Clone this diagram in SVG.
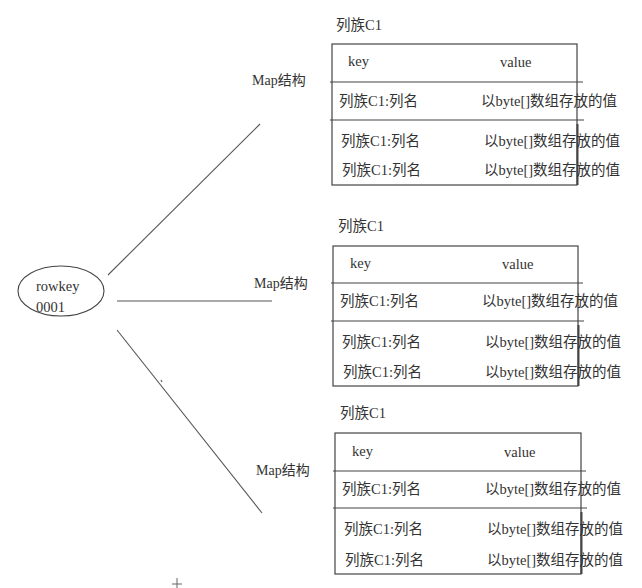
<svg xmlns="http://www.w3.org/2000/svg" width="642" height="588" viewBox="0 0 642 588">
<style>
text{font-size:14.5px;fill:#333}
.box{fill:none;stroke:#444;stroke-width:1.2}
.div{stroke:#444;stroke-width:1.2}
.edge{stroke:#444;stroke-width:2}
.conn line{stroke:#555;stroke-width:1.1}
</style>
<rect width="642" height="588" fill="#fff"/>
<g font-family="'Liberation Serif', 'Noto Sans CJK SC', serif">
<g id="rowkey">
<ellipse cx="61" cy="291" rx="43" ry="25" fill="none" stroke="#444" stroke-width="1.1"/>
<text x="36" y="291">rowkey</text>
<text x="36" y="312">0001</text>
</g>
<g class="conn" id="connectors">
<line x1="108" y1="275" x2="260" y2="124"/>
<line x1="117" y1="301" x2="272" y2="301"/>
<line x1="117" y1="330" x2="262" y2="513"/>
<line x1="161" y1="380" x2="162" y2="382"/>
</g>
<g id="map1"><text x="252" y="85" style="font-size:14px">Map结构</text></g>
<g id="map2"><text x="254" y="288" style="font-size:14px">Map结构</text></g>
<g id="map3"><text x="256" y="475" style="font-size:14px">Map结构</text></g>
<g id="cf1">
<text x="336" y="30">列族C1</text>
<rect class="box" x="332" y="44" width="245" height="141"/>
<line class="div" x1="330" y1="82" x2="583" y2="82"/>
<line class="div" x1="330" y1="120" x2="584" y2="120"/>
<line class="edge" x1="577.5" y1="124" x2="577.5" y2="185"/>
<text x="348" y="66">key</text>
<text x="500" y="67">value</text>
<text x="339" y="106">列族C1:列名</text>
<text x="481" y="106">以byte[]数组存放的值</text>
<text x="341" y="146">列族C1:列名</text>
<text x="484" y="146">以byte[]数组存放的值</text>
<text x="342" y="175">列族C1:列名</text>
<text x="484" y="175">以byte[]数组存放的值</text>
</g>
<g id="cf2">
<text x="338" y="231">列族C1</text>
<rect class="box" x="333" y="246" width="245" height="140"/>
<line class="div" x1="331" y1="283" x2="583" y2="283"/>
<line class="div" x1="331" y1="321" x2="584" y2="321"/>
<line class="edge" x1="578.5" y1="325" x2="578.5" y2="386"/>
<text x="350" y="268">key</text>
<text x="502" y="269">value</text>
<text x="340" y="306">列族C1:列名</text>
<text x="482" y="306">以byte[]数组存放的值</text>
<text x="342" y="347">列族C1:列名</text>
<text x="485" y="347">以byte[]数组存放的值</text>
<text x="343" y="377">列族C1:列名</text>
<text x="485" y="377">以byte[]数组存放的值</text>
</g>
<g id="cf3">
<text x="340" y="418">列族C1</text>
<rect class="box" x="335" y="433" width="246" height="141"/>
<line class="div" x1="333" y1="471" x2="586" y2="471"/>
<line class="div" x1="333" y1="508" x2="587" y2="508"/>
<line class="edge" x1="581.5" y1="512" x2="581.5" y2="574"/>
<text x="352" y="456">key</text>
<text x="504" y="457">value</text>
<text x="342" y="494">列族C1:列名</text>
<text x="485" y="494">以byte[]数组存放的值</text>
<text x="344" y="534">列族C1:列名</text>
<text x="487" y="534">以byte[]数组存放的值</text>
<text x="345" y="565">列族C1:列名</text>
<text x="487" y="565">以byte[]数组存放的值</text>
</g>
</g>
<g id="cross" stroke="#666" stroke-width="1">
<line x1="177" y1="578" x2="177" y2="588"/>
<line x1="172" y1="584" x2="182" y2="584"/>
</g>
</svg>
